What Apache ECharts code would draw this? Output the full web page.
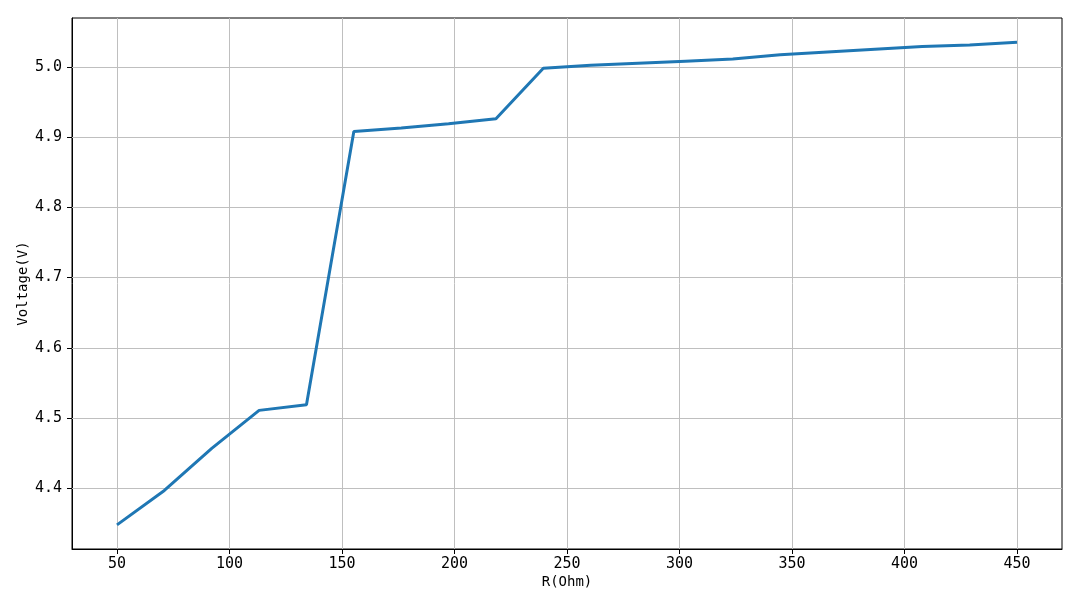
<!DOCTYPE html>
<html>
<head>
<meta charset="utf-8">
<script src="https://cdn.jsdelivr.net/npm/echarts@6/dist/echarts.min.js"></script>
<style>
html,body{margin:0;padding:0;background:#fff;}
#chart{width:1080px;height:607px;}
</style>
</head>
<body>
<div id="chart"></div>
<script>
const rValues = [50, 71.05, 92.11, 113.16, 134.21, 155.26, 176.32, 197.37, 218.42, 239.47,
                 260.53, 281.58, 302.63, 323.68, 344.74, 365.79, 386.84, 407.89, 428.95, 450];
const voltage = [4.348, 4.397, 4.457, 4.511, 4.519, 4.908, 4.913, 4.919, 4.926, 4.998,
                 5.002, 5.005, 5.008, 5.011, 5.017, 5.021, 5.025, 5.029, 5.031, 5.035];
const xTicks = [50, 100, 150, 200, 250, 300, 350, 400, 450];
const yTicks = [4.4, 4.5, 4.6, 4.7, 4.8, 4.9, 5.0];
const xTitle = 'R(Ohm)';
const yTitle = 'Voltage(V)';

const pts = rValues.map((r, i) => [r, voltage[i]]);
const fontFam = '"DejaVu Sans Mono", monospace';

const chart = echarts.init(document.getElementById('chart'), null, {renderer: 'canvas'});
chart.setOption({
  animation: false,
  backgroundColor: '#fff',
  grid: {left: 72, right: 18, top: 18, bottom: 58, show: true, borderColor: '#000', borderWidth: 1, backgroundColor: 'transparent'},
  xAxis: {
    type: 'value', min: 30, max: 470,
    name: xTitle, nameLocation: 'middle', nameGap: 26, nameMoveOverlap: false,
    nameTextStyle: {color: '#000', fontSize: 14, fontFamily: fontFam},
    axisLine: {show: true, onZero: false, lineStyle: {color: '#000', width: 1}},
    axisTick: {show: true, inside: false, length: 5, lineStyle: {color: '#000'}, customValues: xTicks},
    axisLabel: {color: '#000', fontSize: 15, fontFamily: fontFam, margin: 8, customValues: xTicks,
                formatter: v => String(v)},
    splitLine: {show: false}
  },
  yAxis: {
    type: 'value', min: 4.3137, max: 5.0694,
    name: yTitle, nameLocation: 'middle', nameGap: 42, nameRotate: 90, nameMoveOverlap: false,
    nameTextStyle: {color: '#000', fontSize: 14, fontFamily: fontFam},
    axisLine: {show: true, onZero: false, lineStyle: {color: '#000', width: 1}},
    axisTick: {show: true, inside: false, length: 5, lineStyle: {color: '#000'}, customValues: yTicks},
    axisLabel: {color: '#000', fontSize: 15, fontFamily: fontFam, margin: 10, customValues: yTicks,
                formatter: v => Number(v).toFixed(1)},
    splitLine: {show: false}
  },
  series: [
    {
      type: 'line', z: 1, data: pts, symbol: 'none', silent: true,
      lineStyle: {opacity: 0},
      markLine: {
        silent: true, z: 1, symbol: ['none', 'none'], animation: false,
        label: {show: false},
        lineStyle: {color: '#bfbfbf', width: 1, type: 'solid'},
        emphasis: {disabled: true},
        data: xTicks.map(v => ({xAxis: v})).concat(yTicks.map(v => ({yAxis: v})))
      }
    },
    {
      type: 'line', z: 3, data: pts, symbol: 'none',
      lineStyle: {color: '#1f77b4', width: 3}
    }
  ]
});
</script>
</body>
</html>
